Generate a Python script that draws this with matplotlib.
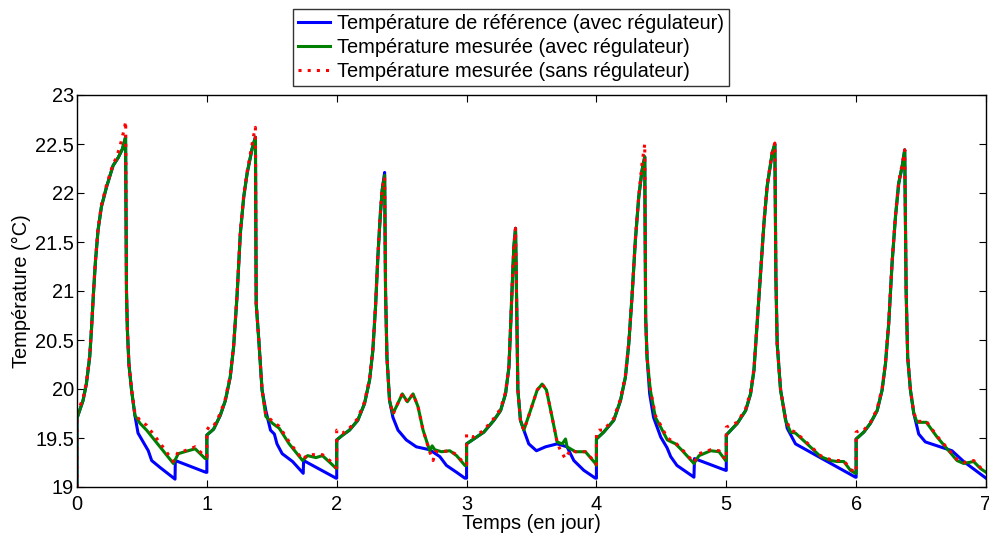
import matplotlib
matplotlib.use("Agg")
import matplotlib.pyplot as plt

plt.rcParams['font.family'] = ['Liberation Sans', 'DejaVu Sans']

# ---- data (time in days, temperature in °C) ----
ref_x = [0, 0, 0.02, 0.046, 0.072, 0.098, 0.112, 0.127, 0.142, 0.162, 0.188, 0.227, 0.278, 0.317, 0.35, 0.374,
         0.381, 0.388, 0.4, 0.42, 0.446, 0.47, 0.523, 0.549, 0.575, 0.639, 0.755, 0.757, 0.992, 1.0,
         1.0, 1.052, 1.103, 1.142, 1.18, 1.206, 1.232, 1.258, 1.284, 1.31, 1.348, 1.374,
         1.38, 1.4, 1.425, 1.454, 1.49, 1.52, 1.54, 1.58, 1.66, 1.742, 1.745, 1.995, 2.0,
         2.0, 2.046, 2.098, 2.162, 2.214, 2.253, 2.278, 2.299, 2.317, 2.335, 2.35, 2.369,
         2.376, 2.387, 2.407, 2.433, 2.472, 2.536, 2.613, 2.716, 2.794, 2.845, 2.923, 2.987, 3.0,
         3.0, 3.056, 3.133, 3.21, 3.262, 3.3, 3.326, 3.338, 3.351, 3.364, 3.377,
         3.385, 3.395, 3.415, 3.441, 3.479, 3.538, 3.608, 3.697, 3.774, 3.826, 3.903, 3.992, 4.0,
         4.0, 4.056, 4.133, 4.185, 4.223, 4.249, 4.274, 4.3, 4.326, 4.351, 4.372,
         4.379, 4.39, 4.41, 4.44, 4.47, 4.495, 4.544, 4.572, 4.62, 4.751, 4.755, 4.995, 5.0,
         5.0, 5.085, 5.149, 5.187, 5.213, 5.238, 5.264, 5.29, 5.315, 5.354, 5.374,
         5.382, 5.392, 5.418, 5.456, 5.469, 5.533, 5.995, 6.0,
         6.0, 6.059, 6.11, 6.162, 6.2, 6.226, 6.251, 6.277, 6.303, 6.328, 6.354, 6.374,
         6.385, 6.397, 6.418, 6.444, 6.482, 6.533, 6.738, 6.828, 7.0]
ref_y = [19.0, 19.70, 19.78, 19.88, 20.05, 20.33, 20.62, 20.98, 21.3, 21.62, 21.86, 22.06, 22.28, 22.36, 22.45, 22.57,
         21.0, 20.6, 20.25, 19.99, 19.73, 19.55, 19.43, 19.37, 19.27, 19.2, 19.08, 19.27, 19.15, 19.15,
         19.53, 19.59, 19.73, 19.88, 20.12, 20.43, 20.94, 21.59, 21.96, 22.2, 22.45, 22.57,
         20.87, 20.5, 19.99, 19.78, 19.58, 19.54, 19.44, 19.34, 19.26, 19.14, 19.27, 19.09, 19.09,
         19.48, 19.53, 19.58, 19.68, 19.85, 20.09, 20.39, 20.84, 21.35, 21.76, 22.03, 22.21,
         21.0, 20.32, 19.88, 19.71, 19.58, 19.48, 19.41, 19.38, 19.31, 19.22, 19.15, 19.09, 19.09,
         19.44, 19.49, 19.56, 19.68, 19.78, 19.95, 20.22, 20.6, 21.04, 21.45, 21.64,
         20.94, 19.99, 19.68, 19.58, 19.44, 19.37, 19.41, 19.44, 19.41, 19.27, 19.17, 19.09, 19.09,
         19.49, 19.56, 19.68, 19.88, 20.12, 20.46, 20.94, 21.52, 21.96, 22.23, 22.37,
         20.73, 20.32, 19.95, 19.71, 19.6, 19.51, 19.40, 19.31, 19.22, 19.10, 19.29, 19.17, 19.17,
         19.53, 19.65, 19.78, 19.95, 20.19, 20.67, 21.18, 21.69, 22.07, 22.41, 22.5,
         21.14, 20.46, 19.99, 19.7, 19.6, 19.44, 19.10, 19.10,
         19.49, 19.56, 19.65, 19.78, 19.99, 20.26, 20.67, 21.29, 21.76, 22.1, 22.27, 22.44,
         21.0, 20.32, 19.99, 19.75, 19.54, 19.46, 19.37, 19.26, 19.09]

avec_x = [0, 0, 0.02, 0.046, 0.072, 0.098, 0.112, 0.127, 0.142, 0.162, 0.188, 0.227, 0.278, 0.317, 0.35, 0.374,
          0.381, 0.388, 0.4, 0.42, 0.446, 0.485, 0.536, 0.639, 0.742, 0.78, 0.83, 0.91, 0.987, 1.0,
          1.0, 1.052, 1.103, 1.142, 1.18, 1.206, 1.232, 1.258, 1.284, 1.31, 1.348, 1.374,
          1.38, 1.4, 1.425, 1.454, 1.505, 1.557, 1.634, 1.737, 1.776, 1.84, 1.89, 1.956, 1.995, 2.0,
          2.0, 2.046, 2.098, 2.162, 2.214, 2.253, 2.278, 2.299, 2.317, 2.335, 2.35, 2.369,
          2.376, 2.387, 2.407, 2.433, 2.459, 2.505, 2.544, 2.588, 2.626, 2.665, 2.716, 2.735, 2.755, 2.807, 2.871, 2.923, 2.987, 3.0,
          3.0, 3.056, 3.133, 3.21, 3.262, 3.3, 3.326, 3.338, 3.351, 3.364, 3.377,
          3.385, 3.395, 3.415, 3.441, 3.492, 3.544, 3.582, 3.615, 3.659, 3.697, 3.736, 3.762, 3.774, 3.838, 3.915, 3.992, 4.0,
          4.0, 4.056, 4.133, 4.185, 4.223, 4.249, 4.274, 4.3, 4.326, 4.351, 4.372,
          4.379, 4.39, 4.415, 4.454, 4.495, 4.546, 4.61, 4.662, 4.751, 4.79, 4.88, 4.944, 4.995, 5.0,
          5.0, 5.085, 5.149, 5.187, 5.213, 5.238, 5.264, 5.29, 5.315, 5.354, 5.374,
          5.382, 5.392, 5.418, 5.456, 5.495, 5.533, 5.623, 5.726, 5.803, 5.854, 5.905, 5.956, 5.995, 6.0,
          6.0, 6.059, 6.11, 6.162, 6.2, 6.226, 6.251, 6.277, 6.303, 6.328, 6.354, 6.374,
          6.385, 6.397, 6.418, 6.444, 6.469, 6.541, 6.623, 6.7, 6.777, 6.828, 6.905, 6.956, 7.0]
avec_y = [19.0, 19.70, 19.78, 19.88, 20.05, 20.33, 20.62, 20.98, 21.3, 21.62, 21.86, 22.06, 22.28, 22.36, 22.45, 22.57,
          21.0, 20.6, 20.25, 19.99, 19.73, 19.65, 19.58, 19.41, 19.24, 19.34, 19.36, 19.39, 19.29, 19.29,
          19.53, 19.59, 19.73, 19.88, 20.12, 20.43, 20.94, 21.59, 21.96, 22.2, 22.45, 22.57,
          20.87, 20.5, 19.99, 19.72, 19.65, 19.6, 19.44, 19.27, 19.32, 19.30, 19.32, 19.24, 19.19, 19.19,
          19.48, 19.53, 19.58, 19.68, 19.85, 20.09, 20.39, 20.84, 21.35, 21.76, 22.03, 22.18,
          21.0, 20.32, 19.88, 19.75, 19.82, 19.95, 19.87, 19.95, 19.82, 19.58, 19.37, 19.42, 19.38, 19.36, 19.37, 19.32, 19.22, 19.22,
          19.44, 19.49, 19.56, 19.68, 19.78, 19.95, 20.22, 20.6, 21.04, 21.45, 21.64,
          20.94, 19.99, 19.68, 19.58, 19.78, 19.99, 20.05, 19.99, 19.71, 19.46, 19.44, 19.49, 19.41, 19.36, 19.36, 19.24, 19.22,
          19.49, 19.56, 19.68, 19.88, 20.12, 20.46, 20.94, 21.52, 21.96, 22.23, 22.37,
          20.73, 20.32, 19.99, 19.71, 19.61, 19.48, 19.44, 19.37, 19.24, 19.32, 19.37, 19.36, 19.27, 19.27,
          19.53, 19.65, 19.78, 19.95, 20.19, 20.67, 21.18, 21.69, 22.07, 22.41, 22.5,
          21.14, 20.46, 19.99, 19.68, 19.56, 19.55, 19.44, 19.31, 19.27, 19.26, 19.26, 19.17, 19.14, 19.14,
          19.49, 19.56, 19.65, 19.78, 19.99, 20.26, 20.67, 21.29, 21.76, 22.1, 22.27, 22.44,
          21.0, 20.32, 19.99, 19.75, 19.66, 19.66, 19.51, 19.39, 19.27, 19.24, 19.26, 19.19, 19.15]

sans_x = [0, 0, 0.02, 0.046, 0.072, 0.098, 0.112, 0.127, 0.142, 0.162, 0.188, 0.227, 0.278, 0.30, 0.33, 0.35, 0.365, 0.375,
          0.381, 0.388, 0.4, 0.42, 0.446, 0.485, 0.536, 0.639, 0.742, 0.78, 0.83, 0.91, 0.987, 1.0,
          1.0, 1.02, 1.052, 1.103, 1.142, 1.18, 1.206, 1.232, 1.258, 1.284, 1.31, 1.348, 1.365, 1.374,
          1.38, 1.4, 1.425, 1.454, 1.505, 1.557, 1.634, 1.737, 1.776, 1.84, 1.89, 1.956, 1.995, 2.0,
          2.0, 2.02, 2.046, 2.098, 2.162, 2.214, 2.253, 2.278, 2.299, 2.317, 2.335, 2.35, 2.369,
          2.376, 2.387, 2.407, 2.433, 2.459, 2.505, 2.544, 2.588, 2.626, 2.665, 2.716, 2.742, 2.76, 2.807, 2.871, 2.923, 2.987, 3.0,
          3.0, 3.03, 3.056, 3.133, 3.21, 3.262, 3.3, 3.326, 3.338, 3.351, 3.364, 3.377,
          3.385, 3.395, 3.415, 3.441, 3.492, 3.544, 3.582, 3.615, 3.659, 3.697, 3.72, 3.76, 3.8, 3.838, 3.915, 3.992, 4.0,
          4.0, 4.02, 4.056, 4.133, 4.185, 4.223, 4.249, 4.274, 4.3, 4.326, 4.351, 4.372,
          4.379, 4.39, 4.415, 4.454, 4.495, 4.546, 4.61, 4.662, 4.751, 4.79, 4.88, 4.944, 4.995, 5.0,
          5.0, 5.03, 5.085, 5.149, 5.187, 5.213, 5.238, 5.264, 5.29, 5.315, 5.354, 5.374,
          5.382, 5.392, 5.418, 5.456, 5.495, 5.533, 5.623, 5.726, 5.803, 5.854, 5.905, 5.956, 5.995, 6.0,
          6.0, 6.03, 6.059, 6.11, 6.162, 6.2, 6.226, 6.251, 6.277, 6.303, 6.328, 6.354, 6.374,
          6.385, 6.397, 6.418, 6.444, 6.469, 6.541, 6.623, 6.7, 6.777, 6.828, 6.905, 6.956, 7.0]
sans_y = [19.0, 19.78, 19.82, 19.90, 20.07, 20.35, 20.64, 21.0, 21.32, 21.64, 21.88, 22.08, 22.30, 22.35, 22.47, 22.58, 22.66, 22.73,
          21.0, 20.6, 20.26, 20.0, 19.75, 19.68, 19.63, 19.45, 19.26, 19.36, 19.37, 19.41, 19.31, 19.31,
          19.58, 19.62, 19.62, 19.75, 19.90, 20.14, 20.45, 20.96, 21.61, 21.98, 22.22, 22.5, 22.62, 22.67,
          20.87, 20.5, 20.0, 19.74, 19.67, 19.62, 19.46, 19.28, 19.33, 19.33, 19.33, 19.26, 19.2, 19.2,
          19.58, 19.56, 19.55, 19.60, 19.70, 19.87, 20.11, 20.41, 20.86, 21.37, 21.78, 22.05, 22.16,
          21.0, 20.32, 19.88, 19.74, 19.82, 19.95, 19.87, 19.95, 19.82, 19.58, 19.36, 19.27, 19.36, 19.36, 19.37, 19.33, 19.23, 19.23,
          19.54, 19.52, 19.51, 19.58, 19.70, 19.80, 19.97, 20.24, 20.62, 21.06, 21.47, 21.64,
          20.94, 19.99, 19.68, 19.58, 19.78, 19.99, 20.05, 19.99, 19.71, 19.46, 19.38, 19.29, 19.38, 19.36, 19.36, 19.25, 19.23,
          19.56, 19.58, 19.58, 19.70, 19.90, 20.14, 20.48, 20.96, 21.54, 21.98, 22.3, 22.5,
          20.73, 20.32, 20.0, 19.73, 19.63, 19.5, 19.45, 19.38, 19.25, 19.34, 19.38, 19.37, 19.28, 19.28,
          19.61, 19.63, 19.66, 19.80, 19.97, 20.21, 20.69, 21.2, 21.71, 22.09, 22.43, 22.51,
          21.14, 20.46, 20.0, 19.7, 19.58, 19.56, 19.45, 19.32, 19.28, 19.27, 19.27, 19.18, 19.15, 19.15,
          19.56, 19.58, 19.58, 19.66, 19.80, 20.01, 20.28, 20.69, 21.31, 21.78, 22.12, 22.29, 22.44,
          21.0, 20.32, 20.0, 19.76, 19.67, 19.67, 19.52, 19.40, 19.28, 19.25, 19.27, 19.2, 19.16]

labels = ['Température de référence (avec régulateur)',
          'Température mesurée (avec régulateur)',
          'Température mesurée (sans régulateur)']
x_ticks = [0, 1, 2, 3, 4, 5, 6, 7]
y_ticks = [19, 19.5, 20, 20.5, 21, 21.5, 22, 22.5, 23]
y_ticklabels = ['19', '19.5', '20', '20.5', '21', '21.5', '22', '22.5', '23']

FS = 14.4

fig = plt.figure(figsize=(9.89, 5.35), dpi=100)
ax = fig.add_axes([77 / 989, 1 - 487 / 535, (986 - 77) / 989, (487 - 95) / 535])

ax.plot(ref_x, ref_y, color=(0, 0, 1), lw=2.2, label=labels[0])
ax.plot(avec_x, avec_y, color=(0, 0.5, 0), lw=2.2, label=labels[1])
ax.plot(sans_x, sans_y, color=(1, 0, 0), lw=2.2, linestyle=(0, (1.0, 2.0)), label=labels[2])

ax.set_xlim(0, 7)
ax.set_ylim(19, 23)
ax.set_xticks(x_ticks)
ax.set_yticks(y_ticks)
ax.set_yticklabels(y_ticklabels)
ax.tick_params(direction='in', length=5, width=0.8, top=True, right=True, labelsize=FS)
ax.tick_params(axis='x', pad=6)
ax.tick_params(axis='y', pad=2)
for s in ax.spines.values():
    s.set_linewidth(1.0)

ax.set_xlabel('Temps (en jour)', fontsize=FS, labelpad=0)
ax.set_ylabel('Température (°C)', fontsize=FS, labelpad=3)

leg = fig.legend(loc='upper left', bbox_to_anchor=(293 / 989, 1 - 9 / 535),
                 fontsize=FS, frameon=True, fancybox=False, borderaxespad=0,
                 handlelength=1.6, handletextpad=0.35, borderpad=0.25,
                 labelspacing=0.25)
leg.get_frame().set_edgecolor('black')
leg.get_frame().set_linewidth(1.0)

fig.savefig('out.png', dpi=100)
